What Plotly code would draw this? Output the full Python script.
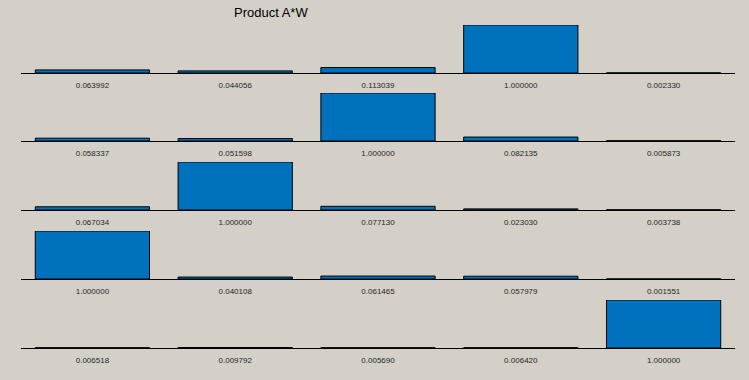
import plotly.graph_objects as go

categories = [1, 2, 3, 4, 5]
row1 = [0.063992, 0.044056, 0.113039, 1.000000, 0.002330]
row2 = [0.058337, 0.051598, 1.000000, 0.082135, 0.005873]
row3 = [0.067034, 1.000000, 0.077130, 0.023030, 0.003738]
row4 = [1.000000, 0.040108, 0.061465, 0.057979, 0.001551]
row5 = [0.006518, 0.009792, 0.005690, 0.006420, 1.000000]
rows = [row1, row2, row3, row4, row5]
title_text = "Product A*W"

W, H = 749, 380
baselines = [73, 141, 210, 279, 348]
bar_h = 48
x0_px, x1_px = 21, 735

fig = go.Figure()
layout = dict(
    width=W, height=H,
    margin=dict(l=0, r=0, t=0, b=0),
    paper_bgcolor="#D4D0C8", plot_bgcolor="rgba(0,0,0,0)",
    showlegend=False,
    font=dict(family="Liberation Sans, Arial, sans-serif", size=8, color="#262626"),
)
for i, vals in enumerate(rows):
    n = "" if i == 0 else str(i + 1)
    fig.add_trace(go.Bar(
        x=categories, y=vals, xaxis="x" + n, yaxis="y" + n,
        width=0.8,
        marker=dict(color="#0072BD", line=dict(color="black", width=1)),
        hoverinfo="skip",
    ))
    b = baselines[i]
    layout["xaxis" + n] = dict(
        domain=[x0_px / W, x1_px / W], anchor="y" + n,
        range=[0.5, 5.5], tickvals=categories,
        ticktext=["%.6f" % v for v in vals],
        showline=True, linecolor="black", linewidth=1,
        showgrid=False, zeroline=False, ticks="",
        ticklabelstandoff=4,
        tickfont=dict(size=8, color="#262626"),
        fixedrange=True,
    )
    layout["yaxis" + n] = dict(
        domain=[1 - b / H, 1 - (b - bar_h) / H], anchor="x" + n,
        range=[0, 1], visible=False, fixedrange=True,
    )

layout["annotations"] = [dict(
    text=title_text, x=271 / W, y=1 - 12.5 / H, xref="paper", yref="paper",
    xanchor="center", yanchor="middle", showarrow=False,
    font=dict(size=13, color="black", family="Liberation Sans, Arial, sans-serif"),
)]
fig.update_layout(**layout)
fig.write_html(
    "out.html",
    config={"displayModeBar": False},
    post_script="document.body.style.margin='0';document.body.style.background='#D4D0C8';document.body.style.overflow='hidden';",
)
